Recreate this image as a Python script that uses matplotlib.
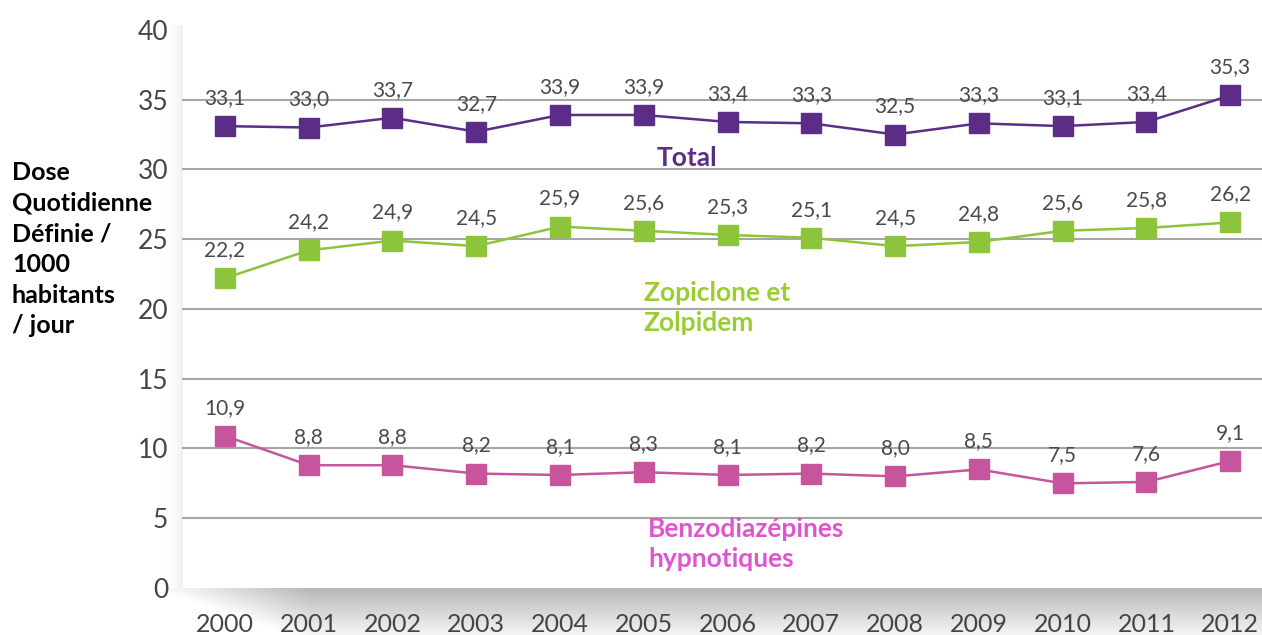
import matplotlib.pyplot as plt
import numpy as np

plt.rcParams['font.family'] = ['Lato', 'DejaVu Sans']

# données
years = list(range(2000, 2013))
total = [33.1, 33.0, 33.7, 32.7, 33.9, 33.9, 33.4, 33.3, 32.5, 33.3, 33.1, 33.4, 35.3]
zopi_zolp = [22.2, 24.2, 24.9, 24.5, 25.9, 25.6, 25.3, 25.1, 24.5, 24.8, 25.6, 25.8, 26.2]
benzo = [10.9, 8.8, 8.8, 8.2, 8.1, 8.3, 8.1, 8.2, 8.0, 8.5, 7.5, 7.6, 9.1]
y_ticks = [0, 5, 10, 15, 20, 25, 30, 35, 40]
ylabel_lines = ['Dose', 'Quotidienne', 'Définie /', '1000', 'habitants', '/ jour']

c_total = '#5b2d87'
c_zopi = '#8cc43c'
c_benzo = '#c6559d'

fig = plt.figure(figsize=(12.62, 6.35), dpi=100)

# ombre grise sous le graphique et à gauche
bg = fig.add_axes([0, 0, 1, 1], zorder=0)
bg.set_xlim(0, 1)
bg.set_ylim(0, 1)
bg.axis('off')
ny, nx = 60, 300
gy = np.linspace(0, 1, ny)[:, None]
gx = np.linspace(0, 1, nx)[None, :]
shade = 0.72 + 0.24 * gy + 0.0 * gx
shade = np.clip(shade + 0.28 * np.clip(1 - gx * 7, 0, 1), 0, 1)
bg.imshow(np.dstack([shade] * 3), extent=[0.12, 1, 0, 0.074], aspect='auto',
          origin='upper', zorder=0)
side = 1 - 0.06 * np.linspace(0, 1, 40)[None, :] ** 2
side = np.repeat(side, 10, axis=0)
bg.imshow(np.dstack([side] * 3), extent=[0.128, 0.1442, 0.074, 0.96],
          aspect='auto', zorder=0)

ax = fig.add_axes([0.1442, 0.074, 0.8558, 0.879], zorder=1)
ax.patch.set_alpha(0)

ax.plot(years, total, color=c_total, lw=1.8, marker='s', ms=14, zorder=3)
ax.plot(years, zopi_zolp, color=c_zopi, lw=1.8, marker='s', ms=14, zorder=3)
ax.plot(years, benzo, color=c_benzo, lw=1.8, marker='s', ms=14, zorder=3)

for serie in (total, zopi_zolp, benzo):
    for x, v in zip(years, serie):
        ax.annotate(f'{v:.1f}'.replace('.', ','), (x, v), xytext=(0, 13),
                    textcoords='offset points', ha='center', va='bottom',
                    fontsize=15, color='#4a4a4a', zorder=4)

# étiquettes des séries
ax.text(2005.15, 30.85, 'Total', color=c_total, fontsize=19, fontweight='bold',
        va='center', ha='left')
ax.text(2005.0, 20.1, 'Zopiclone et\nZolpidem', color='#9acd32', fontsize=19,
        fontweight='bold', va='center', ha='left', linespacing=1.3)
ax.text(2005.05, 3.12, 'Benzodiazépines\nhypnotiques', color='#e055cf', fontsize=19,
        fontweight='bold', va='center', ha='left', linespacing=1.3)

ax.set_xlim(1999.487, 2012.38)
ax.set_ylim(0, 40)
ax.set_yticks(y_ticks)
ax.set_yticklabels([str(t) for t in y_ticks], fontsize=19, color='#454545')
ax.set_xticks(years)
ax.set_xticklabels([str(y) for y in years], fontsize=18, color='#454545')
ax.tick_params(axis='y', length=0, pad=10)
ax.tick_params(axis='x', length=0, pad=18)
for t in y_ticks[1:-1]:
    ax.axhline(t, color='#a6a6a6', lw=1.5, zorder=1)
for spine in ax.spines.values():
    spine.set_visible(False)

# titre de l'axe y, une ligne à la fois
for i, line in enumerate(ylabel_lines):
    fig.text(0.0095, 0.728 - i * 0.0482, line, fontsize=18, fontweight='bold',
             color='black', va='center', ha='left')

plt.savefig('out.png', dpi=100)
